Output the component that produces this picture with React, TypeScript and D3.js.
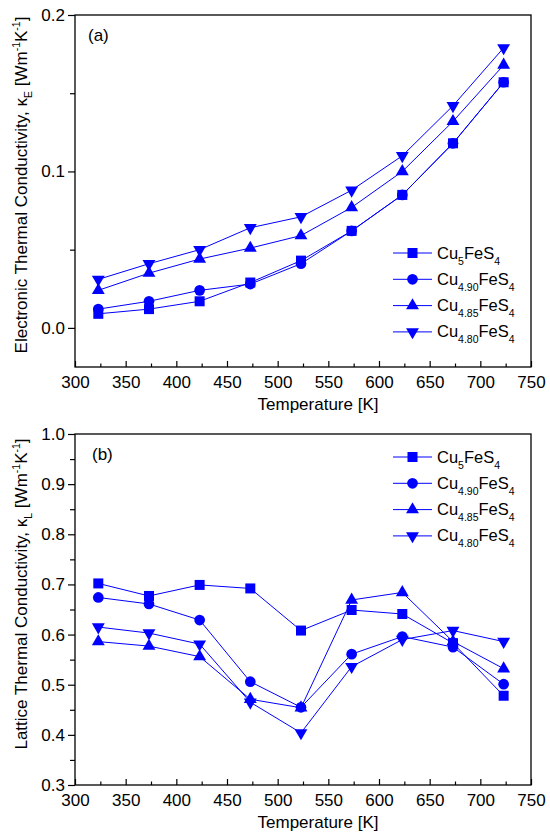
import { useEffect, useRef } from "react";
import * as d3 from "d3";

// temperatures [K]
const temps = [323, 373, 423, 473, 523, 573, 623, 673, 723];

// (a) electronic thermal conductivity
const keCu500 = [0.009, 0.012, 0.017, 0.029, 0.043, 0.062, 0.085, 0.118, 0.157];
const keCu490 = [0.012, 0.017, 0.024, 0.028, 0.041, 0.062, 0.085, 0.118, 0.157];
const keCu485 = [0.024, 0.035, 0.044, 0.051, 0.059, 0.077, 0.100, 0.132, 0.168];
const keCu480 = [0.031, 0.041, 0.050, 0.064, 0.071, 0.088, 0.110, 0.142, 0.179];

// (b) lattice thermal conductivity
const klCu500 = [0.702, 0.677, 0.699, 0.692, 0.608, 0.649, 0.641, 0.583, 0.478];
const klCu490 = [0.674, 0.661, 0.629, 0.506, 0.455, 0.561, 0.596, 0.575, 0.501];
const klCu485 = [0.586, 0.577, 0.556, 0.471, 0.454, 0.669, 0.684, 0.586, 0.532];
const klCu480 = [0.615, 0.603, 0.581, 0.465, 0.404, 0.536, 0.590, 0.608, 0.586];

const subs = ["5", "4.90", "4.85", "4.80"];
const symbols = ["square", "circle", "up", "down"];

const xTicks = [300, 350, 400, 450, 500, 550, 600, 650, 700, 750];
const xMinor = [325, 375, 425, 475, 525, 575, 625, 675, 725];
const yTicksA = [0.0, 0.1, 0.2];
const yMinorA = [0.05, 0.15];
const yTicksB = [0.3, 0.4, 0.5, 0.6, 0.7, 0.8, 0.9, 1.0];
const yMinorB = [0.35, 0.45, 0.55, 0.65, 0.75, 0.85, 0.95];

const BLUE = "#0000ff";
const FONT = "'Liberation Sans', Arial, sans-serif";

type Panel = {
  top: number;
  bottom: number;
  domain: [number, number];
  series: number[][];
  ticks: number[];
  minor: number[];
  tag: string;
  tagX: number;
  legendY: number;
  quantity: string;
  sub: string;
  labelY: number;
};

function drawPanel(svg: d3.Selection<SVGSVGElement, unknown, null, undefined>, p: Panel) {
  const left = 75, right = 531;
  const x = d3.scaleLinear().domain([300, 750]).range([left, right]);
  const y = d3.scaleLinear().domain(p.domain).range([p.bottom, p.top]);
  const g = svg.append("g");

  // frame
  g.append("rect")
    .attr("x", left).attr("y", p.top)
    .attr("width", right - left).attr("height", p.bottom - p.top)
    .attr("fill", "none").attr("stroke", "#000").attr("stroke-width", 1.3);

  // x axis: inward ticks
  const xa = g.append("g").attr("transform", `translate(0,${p.bottom})`)
    .call(d3.axisBottom(x).tickValues(xTicks).tickSize(-6).tickPadding(9).tickFormat(d3.format("d")));
  g.append("g").attr("transform", `translate(0,${p.bottom})`)
    .call(d3.axisBottom(x).tickValues(xMinor).tickSize(-3.5).tickFormat(() => ""))
    .call(a => a.select(".domain").remove());

  // y axis: outward ticks
  const ya = g.append("g").attr("transform", `translate(${left},0)`)
    .call(d3.axisLeft(y).tickValues(p.ticks).tickSize(7).tickPadding(3).tickFormat(d3.format(".1f")));
  g.append("g").attr("transform", `translate(${left},0)`)
    .call(d3.axisLeft(y).tickValues(p.minor).tickSize(5).tickFormat(() => ""))
    .call(a => a.select(".domain").remove());

  [xa, ya].forEach(a => {
    a.select(".domain").remove();
    a.selectAll("text").attr("font-size", 17).attr("font-family", FONT).attr("fill", "#000");
  });
  g.selectAll(".tick line").attr("stroke", "#000").attr("stroke-width", 1.2);

  const symbolFor = (s: string) => {
    if (s === "square") return d3.symbol(d3.symbolSquare, 100)();
    if (s === "circle") return d3.symbol(d3.symbolCircle, 90)();
    return d3.symbol(d3.symbolTriangle, 72)();
  };

  const line = d3.line<number>().x((_, i) => x(temps[i])).y(d => y(d));

  p.series.forEach((vals, si) => {
    g.append("path").attr("d", line(vals)!)
      .attr("fill", "none").attr("stroke", BLUE).attr("stroke-width", 1);
    g.selectAll(null).data(vals).join("path")
      .attr("d", symbolFor(symbols[si])!)
      .attr("transform", (d, i) => `translate(${x(temps[i])},${y(d)})${symbols[si] === "down" ? " rotate(180)" : ""}`)
      .attr("fill", BLUE);
  });

  // panel tag
  g.append("text").attr("x", p.tagX).attr("y", p.top + 26)
    .attr("font-size", 17).attr("font-family", FONT).text(p.tag);

  // legend
  subs.forEach((s, i) => {
    const cy = p.legendY + i * 26.3;
    g.append("line").attr("x1", 393).attr("x2", 432).attr("y1", cy).attr("y2", cy)
      .attr("stroke", BLUE).attr("stroke-width", 1);
    g.append("path").attr("d", symbolFor(symbols[i])!)
      .attr("transform", `translate(412.5,${cy})${symbols[i] === "down" ? " rotate(180)" : ""}`)
      .attr("fill", BLUE);
    const t = g.append("text").attr("x", 437).attr("y", cy + 5.5)
      .attr("font-size", 16.5).attr("font-family", FONT);
    t.append("tspan").text("Cu");
    t.append("tspan").attr("font-size", 10.5).attr("dy", 6).text(s);
    t.append("tspan").attr("dy", -6).text("FeS");
    t.append("tspan").attr("font-size", 10.5).attr("dy", 6).text("4");
  });

  // x title
  g.append("text").attr("x", 318).attr("y", p.bottom + 43)
    .attr("text-anchor", "middle").attr("font-size", 17).attr("font-family", FONT)
    .text("Temperature [K]");

  // y title
  const yt = g.append("text")
    .attr("transform", `translate(27,${p.labelY}) rotate(-90)`)
    .attr("text-anchor", "middle").attr("font-size", 17).attr("font-family", FONT);
  yt.append("tspan").text(`${p.quantity}, κ`);
  yt.append("tspan").attr("font-size", 10.5).attr("dy", 5).text(p.sub);
  yt.append("tspan").attr("dy", -5).text(" [Wm");
  yt.append("tspan").attr("font-size", 10.5).attr("dy", -7).text("-1");
  yt.append("tspan").attr("dy", 7).text("K");
  yt.append("tspan").attr("font-size", 10.5).attr("dy", -7).text("-1");
  yt.append("tspan").attr("dy", 7).text("]");
}

export default function App() {
  const svgRef = useRef<SVGSVGElement | null>(null);

  useEffect(() => {
    const svg = d3.select(svgRef.current!);
    svg.selectAll("*").remove();

    drawPanel(svg, {
      top: 15, bottom: 367, domain: [-0.025, 0.2],
      series: [keCu500, keCu490, keCu485, keCu480],
      ticks: yTicksA, minor: yMinorA,
      tag: "(a)", tagX: 88, legendY: 253,
      quantity: "Electronic Thermal Conductivity", sub: "E", labelY: 185,
    });
    drawPanel(svg, {
      top: 434, bottom: 785, domain: [0.3, 1.0],
      series: [klCu500, klCu490, klCu485, klCu480],
      ticks: yTicksB, minor: yMinorB,
      tag: "(b)", tagX: 92, legendY: 457,
      quantity: "Lattice Thermal Conductivity", sub: "L", labelY: 594,
    });
  }, []);

  return (
    <svg ref={svgRef} width={550} height={839}
      style={{ position: "absolute", left: 0, top: 0, background: "#fff" }} />
  );
}
